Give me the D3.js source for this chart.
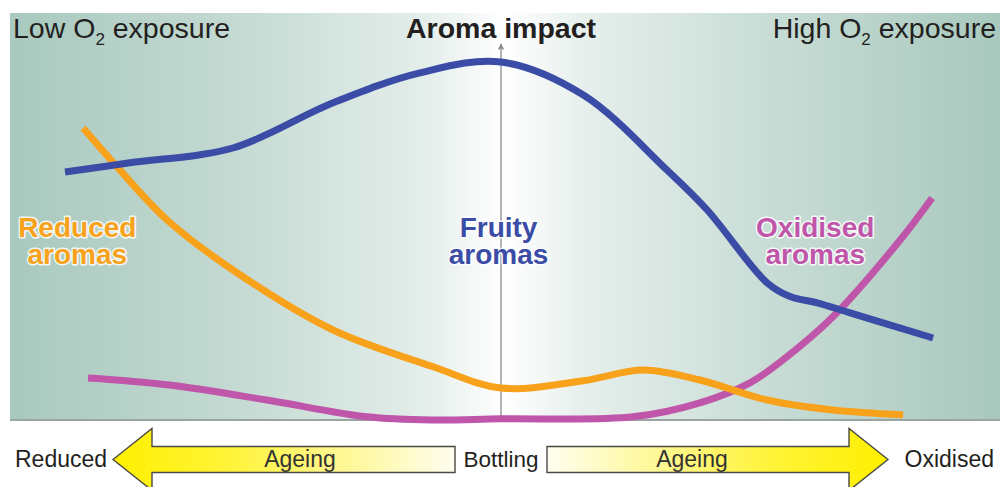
<!DOCTYPE html>
<html><head><meta charset="utf-8">
<script src="https://cdn.jsdelivr.net/npm/d3@7"></script>
<style>
html,body{margin:0;padding:0;background:#fff;}
svg{display:block;font-family:"Liberation Sans",Arial,Helvetica,sans-serif;}
</style></head>
<body>
<svg id="c" width="1000" height="487"></svg>
<script>
// O2 exposure (-100 = reduced, 0 = bottling, 100 = oxidised) and aroma impact (0-100)
const fruityX = [-88.8, -75.6, -54.6, -34.2, -16.5, 0, 16.7, 33.8, 42, 54.2, 59, 64.4, 71.1, 88];
const fruityY = [62, 64.3, 68, 79.3, 86.8, 89.5, 81.3, 62.5, 52.5, 34.3, 30.8, 29.3, 26.8, 20.5];
const reducedX = [-85.1, -78.2, -68, -54.6, -34.2, -13.8, 0, 16.7, 28.9, 40.5, 54.2, 67.6, 81.9];
const reducedY = [73, 63.3, 50, 37.5, 22.5, 13.3, 8, 9.8, 12.5, 10, 5, 2.5, 1.3];
const oxidisedX = [-84.1, -68, -47.7, -27.3, -13.8, 0, 26.9, 40.5, 50.7, 57.4, 67.6, 81.3, 87.8];
const oxidisedY = [10.5, 8.8, 5, 0.8, 0, 0.3, 0.8, 4.3, 9.3, 15, 25.8, 45, 55.5];

const seriesNames = ["Fruity aromas", "Reduced aromas", "Oxidised aromas"];
const seriesLines = [["Fruity", "aromas"], ["Reduced", "aromas"], ["Oxidised", "aromas"]];
const seriesLabelX = [-0.5, -86.3, 64];
const seriesLabelY = [45.7, 45.7, 45.7];

const titleText = "Aroma impact";
const lowText = ["Low O", "2", " exposure"];
const highText = ["High O", "2", " exposure"];
const bottomLabels = ["Reduced", "Bottling", "Oxidised"];
const arrowLabel = "Ageing";

const svg = d3.select("#c");
const panel = {x0: 10, x1: 1000, y0: 13, y1: 420};
const x = d3.scaleLinear().domain([-100, 100]).range([10, 992]);
const y = d3.scaleLinear().domain([0, 100]).range([420, 20]);

const defs = svg.append("defs");
const bg = defs.append("linearGradient").attr("id", "bg").attr("x1", 0).attr("x2", 1).attr("y1", 0).attr("y2", 0);
[[0, "#a8c9bf"], [0.22, "#c3d9d2"], [0.42, "#e4eeeb"], [0.5, "#ffffff"], [0.58, "#e6efec"], [0.78, "#c6dbd4"], [1, "#a8c8be"]]
  .forEach(s => bg.append("stop").attr("offset", s[0]).attr("stop-color", s[1]));
const gl = defs.append("linearGradient").attr("id", "gl").attr("x1", 0).attr("x2", 1).attr("y1", 0).attr("y2", 0);
[[0, "#fff000"], [0.35, "#fff33a"], [1, "#fffdf0"]].forEach(s => gl.append("stop").attr("offset", s[0]).attr("stop-color", s[1]));
const gr = defs.append("linearGradient").attr("id", "gr").attr("x1", 0).attr("x2", 1).attr("y1", 0).attr("y2", 0);
[[0, "#fffdf0"], [0.65, "#fff33a"], [1, "#fff000"]].forEach(s => gr.append("stop").attr("offset", s[0]).attr("stop-color", s[1]));
defs.append("marker").attr("id", "ah").attr("viewBox", "0 0 10 10").attr("refX", 9).attr("refY", 5)
  .attr("markerWidth", 7).attr("markerHeight", 7).attr("orient", "auto").attr("markerUnits", "userSpaceOnUse")
  .append("path").attr("d", "M0,0 L10,5 L0,10 L3,5 Z").attr("fill", "#888");

// panel
svg.append("rect").attr("x", panel.x0).attr("y", panel.y0).attr("width", panel.x1 - panel.x0).attr("height", panel.y1 - panel.y0).attr("fill", "url(#bg)");
svg.append("line").attr("x1", panel.x0).attr("x2", panel.x1).attr("y1", panel.y1).attr("y2", panel.y1).attr("stroke", "#9aa5a1").attr("stroke-width", 2);
// central axis
svg.append("line").attr("x1", x(0)).attr("x2", x(0)).attr("y1", panel.y1).attr("y2", 44)
  .attr("stroke", "#8a8a8a").attr("stroke-width", 1.3).attr("marker-end", "url(#ah)");

// lines
const line = d3.line().x(d => x(d[0])).y(d => y(d[1])).curve(d3.curveCatmullRom.alpha(0.5));
const colors = ["#3a4ca6", "#f8a21c", "#c056aa"];
const data = [d3.zip(fruityX, fruityY), d3.zip(reducedX, reducedY), d3.zip(oxidisedX, oxidisedY)];
[2, 1, 0].forEach(i => {
  svg.append("path").attr("d", line(data[i])).attr("fill", "none").attr("stroke", colors[i])
    .attr("stroke-width", 7).attr("stroke-linecap", "butt").attr("stroke-linejoin", "round");
});

// series labels
seriesLines.forEach((ls, i) => {
  ls.forEach((s, j) => {
    svg.append("text").attr("x", x(seriesLabelX[i])).attr("y", y(seriesLabelY[i]) + j * 27)
      .attr("text-anchor", "middle").attr("font-size", 28).attr("font-weight", "bold")
      .attr("fill", colors[i]).attr("stroke", "rgba(255,255,255,0.85)").attr("stroke-width", 3)
      .attr("paint-order", "stroke").attr("stroke-linejoin", "round").text(s);
  });
});

// top labels
function o2(parts, xp, anchor) {
  const t = svg.append("text").attr("x", xp).attr("y", 38).attr("font-size", 28.5).attr("fill", "#231f20").attr("text-anchor", anchor);
  t.append("tspan").text(parts[0]);
  t.append("tspan").attr("font-size", 17).attr("dy", 7).text(parts[1]);
  t.append("tspan").attr("dy", -7).text(parts[2]);
}
o2(lowText, 13, "start");
o2(highText, 996, "end");
svg.append("text").attr("x", 501).attr("y", 38).attr("text-anchor", "middle").attr("font-size", 28.5)
  .attr("font-weight", "bold").attr("fill", "#231f20").text(titleText);

// bottom arrows
const ay = 459.5, bh = 13, hh = 31;
const leftArrow = [[113, ay], [152, ay - hh], [152, ay - bh], [455, ay - bh], [455, ay + bh], [152, ay + bh], [152, ay + hh]];
const rightArrow = [[888, ay], [849, ay - hh], [849, ay - bh], [547, ay - bh], [547, ay + bh], [849, ay + bh], [849, ay + hh]];
svg.append("path").attr("d", d3.line()(leftArrow) + "Z").attr("fill", "url(#gl)").attr("stroke", "#4a4a44").attr("stroke-width", 1.4).attr("stroke-linejoin", "miter");
svg.append("path").attr("d", d3.line()(rightArrow) + "Z").attr("fill", "url(#gr)").attr("stroke", "#4a4a44").attr("stroke-width", 1.4).attr("stroke-linejoin", "miter");
svg.append("text").attr("x", 300).attr("y", 467).attr("text-anchor", "middle").attr("font-size", 23).attr("fill", "#333").text(arrowLabel);
svg.append("text").attr("x", 692).attr("y", 467).attr("text-anchor", "middle").attr("font-size", 23).attr("fill", "#333").text(arrowLabel);
svg.append("text").attr("x", 15).attr("y", 467).attr("font-size", 23).attr("fill", "#231f20").text(bottomLabels[0]);
svg.append("text").attr("x", 501).attr("y", 467).attr("text-anchor", "middle").attr("font-size", 22.5).attr("fill", "#231f20").text(bottomLabels[1]);
svg.append("text").attr("x", 994).attr("y", 467).attr("text-anchor", "end").attr("font-size", 23).attr("fill", "#231f20").text(bottomLabels[2]);
</script>
</body></html>
